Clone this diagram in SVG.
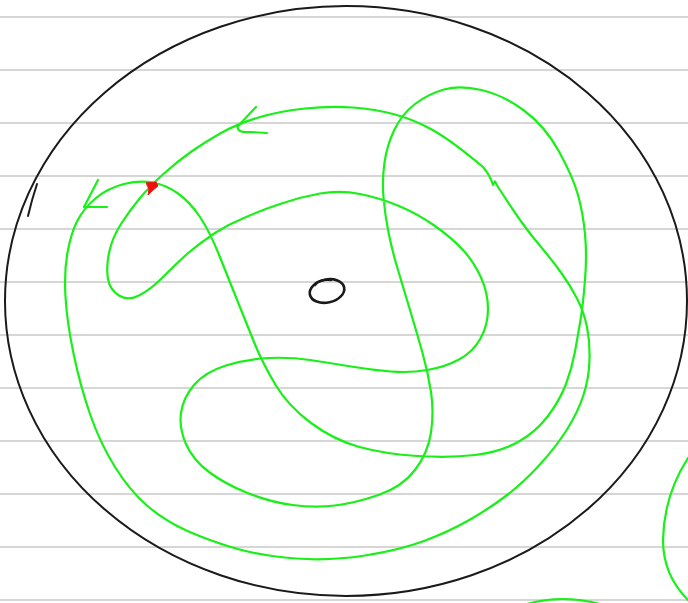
<svg xmlns="http://www.w3.org/2000/svg" width="688" height="603" viewBox="0 0 688 603">
<style>
.rule{stroke:#adadad;stroke-width:1.2;fill:none}
.ink{stroke:#1a1a1a;stroke-width:2;fill:none;stroke-linecap:round;stroke-linejoin:round}
.g{stroke:#18f018;stroke-width:2.2;fill:none;stroke-linecap:round;stroke-linejoin:round}
</style>
<rect width="688" height="603" fill="#ffffff"/>
<g id="rules">
<line class="rule" x1="0" y1="17" x2="688" y2="17"/>
<line class="rule" x1="0" y1="70" x2="688" y2="70"/>
<line class="rule" x1="0" y1="123" x2="688" y2="123"/>
<line class="rule" x1="0" y1="176" x2="688" y2="176"/>
<line class="rule" x1="0" y1="229" x2="688" y2="229"/>
<line class="rule" x1="0" y1="282" x2="688" y2="282"/>
<line class="rule" x1="0" y1="335" x2="688" y2="335"/>
<line class="rule" x1="0" y1="388" x2="688" y2="388"/>
<line class="rule" x1="0" y1="441" x2="688" y2="441"/>
<line class="rule" x1="0" y1="494" x2="688" y2="494"/>
<line class="rule" x1="0" y1="547" x2="688" y2="547"/>
<line class="rule" x1="0" y1="600" x2="688" y2="600"/>
</g>
<g id="boundary">
<ellipse class="ink" cx="346" cy="301" rx="341" ry="295"/>
<path class="ink" d="M37,184 Q32,199 28,216"/>
</g>
<g id="center">
<ellipse class="ink" style="stroke-width:2.6" cx="327" cy="291" rx="17.5" ry="11.5" transform="rotate(-12 327 291)"/>
<path class="ink" style="stroke-width:2.4" d="M315,285 Q319,279 331,280"/>
</g>
<g id="trajectory">
<path class="g" d="M483,167 Q490,175 493,185 L495,181.5 L498,187
Q513,210 521.5,222 Q530,234 541,247 Q552,260 561,272.5 Q570,285 577,298.5 Q584,312 587,327 Q590,342 589.5,360 Q589,378 583.5,395 Q578,412 567,429.5 Q556,447 539,465.5 Q522,484 504.5,497 Q487,510 467.5,521 Q448,532 424,541 Q400,550 365,555.5 Q330,561 296,558.5 Q262,556 236,548.5 Q210,541 187.5,531 Q165,521 147.5,506 Q130,491 115,467 Q100,443 90,414 Q80,385 73.5,353.5 Q67,322 65.5,297 Q64,272 67.5,252.5 Q71,233 77.5,220.5 Q84,208 96,198 Q108,188 124,184 Q140,180 153,182.5 Q166,185 178,193.5 Q190,202 200,217 Q210,232 219.5,256 Q229,280 237.5,301 Q246,322 254,342 Q262,362 275,384 Q288,406 311,423 Q334,440 359.5,447 Q385,454 417.5,456 Q450,458 475,455 Q500,452 518,442 Q536,432 548,416 Q560,400 566,384 Q572,368 575,351.5 Q578,335 580.5,320 Q583,305 585,280 Q587,255 585,234 Q583,213 578,195 Q573,177 559,151.5 Q545,126 524,110.5 Q503,95 481.5,90 Q460,85 444,89.5 Q428,94 415,104 Q402,114 394.5,129.5 Q387,145 384.5,162.5 Q382,180 383.5,197.5 Q385,215 388.5,232.5 Q392,250 398,270 Q404,290 410,310 Q416,330 422,351 Q428,372 431,392 Q434,412 431,432.5 Q428,453 415,470 Q402,487 378.5,495 Q355,503 335,505.5 Q315,508 292.5,505 Q270,502 247.5,493 Q225,484 209,472 Q193,460 186,444 Q179,428 181,413 Q183,398 194,385 Q205,372 226,365.5 Q247,359 268.5,358 Q290,357 310,360 Q330,363 351,366.5 Q372,370 391,371.5 Q410,373 427.5,370 Q445,367 459,359.5 Q473,352 480.5,338.5 Q488,325 488,309 Q488,293 481,277.5 Q474,262 463,250 Q452,238 435,226 Q418,214 399,206 Q380,198 360,194 Q340,190 320,193.5 Q300,197 280,204 Q262,210 245,217.5 Q229,224 215,233 Q200,243 187.5,253.5 Q175,265 162.5,277.5 Q150,290 139,295.5 Q128,301 119,295.5 Q110,290 108,279 Q106,268 109,253 Q112,238 121,224 Q130,210 140,198 Q150,186 164,173.5 Q178,161 191.5,151.5 Q205,142 221,133 Q237,124 258.5,117.5 Q280,111 305,108.5 Q330,106 352.5,107.5 Q375,109 395,114.5 Q415,120 433.5,130.5 Q452,141 483,167"/>
<path class="g" d="M98,180 L84,207 L107,207"/>
<path class="g" d="M256,107 L238,126 Q236,133 250,132 L267,133"/>
<path class="g" d="M688,458 Q664,495 663,540 Q663,575 688,600"/>
<path class="g" d="M527,604 Q562,594 600,604"/>
</g>
<g id="start-point">
<path d="M146,183 L156,182 L158,186 L152,191 L148,195 L149,189 Z" fill="#ee1111" stroke="#ee1111" stroke-width="1" stroke-linejoin="round"/>
</g>
</svg>
